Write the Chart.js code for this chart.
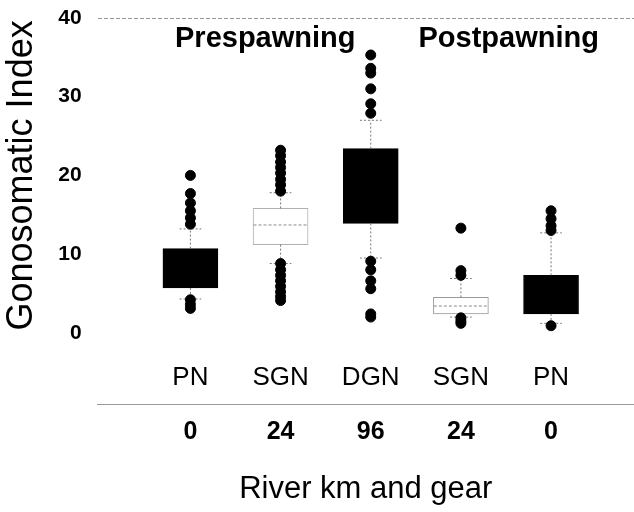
<!DOCTYPE html>
<html>
<head>
<meta charset="utf-8">
<script src="https://cdn.jsdelivr.net/npm/chart.js@4/dist/chart.umd.min.js"></script>
<style>
  body { margin: 0; background: #fff; }
  #wrap { width: 634px; height: 512px; }
</style>
</head>
<body>
<div id="wrap"><canvas id="gsi" width="634" height="512"></canvas></div>
<script>
// gear and river km under each box
const gear = ["PN", "SGN", "DGN", "SGN", "PN"];
const riverKm = ["0", "24", "96", "24", "0"];
const phases = ["Prespawning", "Postpawning"];

// box edges (quartiles), medians, whisker ends
const q1 = [5.7, 11.2, 13.9, 2.4, 2.4];
const q3 = [10.7, 15.8, 23.4, 4.5, 7.3];
const median = [null, 13.7, null, 3.4, null];
const whiskerLow = [4.3, 8.8, 9.5, 2.0, 1.2];
const whiskerHigh = [13.2, 17.8, 27.0, 6.9, 12.7];
const boxFill = ["#000", "#fff", "#000", "#fff", "#000"];
const boxEdge = ["#000", "#b0b0b0", "#000", "#9a9a9a", "#000"];

// outliers per box
const outliers = [
  [20.0, 17.7, 16.5, 15.5, 14.6, 13.8, 4.2, 3.6, 3.1],
  [23.2, 22.5, 21.7, 21.0, 20.3, 19.5, 18.8, 18.0, 8.8, 8.0, 7.3, 6.6, 5.9, 5.2, 4.6, 4.1],
  [35.3, 33.6, 33.0, 31.0, 29.1, 27.9, 9.1, 8.0, 6.6, 5.6, 2.4, 2.0],
  [13.3, 7.9, 7.3, 1.9, 1.5, 1.2],
  [15.5, 14.5, 13.6, 13.0, 0.9]
];

const FONT = "'Liberation Sans', Arial, Helvetica, sans-serif";
const X_MIN = -0.03, X_MAX = 5.92;

// whisker segments with short caps, broken by gaps
let whiskers = [];
gear.forEach((g, i) => {
  let x = i + 1;
  whiskers.push({x: x, y: q3[i]}, {x: x, y: whiskerHigh[i]}, {x: x, y: null});
  whiskers.push({x: x - 0.12, y: whiskerHigh[i]}, {x: x + 0.12, y: whiskerHigh[i]}, {x: x, y: null});
  whiskers.push({x: x, y: q1[i]}, {x: x, y: whiskerLow[i]}, {x: x, y: null});
  whiskers.push({x: x - 0.12, y: whiskerLow[i]}, {x: x + 0.12, y: whiskerLow[i]}, {x: x, y: null});
});

let medians = [];
median.forEach((m, i) => {
  if (m === null) return;
  medians.push({x: i + 1 - 0.3, y: m}, {x: i + 1 + 0.3, y: m}, {x: i + 1, y: null});
});

let points = [];
outliers.forEach((list, i) => list.forEach(v => points.push({x: i + 1, y: v})));

const phaseLabels = {
  id: "phaseLabels",
  afterDraw(chart) {
    const ctx = chart.ctx;
    const xs = chart.scales.x, ys = chart.scales.y;
    const at = [1.83, 4.53];
    ctx.save();
    ctx.font = "bold 29px " + FONT;
    ctx.fillStyle = "#000";
    ctx.textAlign = "center";
    ctx.textBaseline = "middle";
    phases.forEach((p, i) => ctx.fillText(p, xs.getPixelForValue(at[i]), ys.getPixelForValue(37.3)));
    ctx.restore();
  }
};

new Chart("gsi", {
  type: "bar",
  data: {
    datasets: [
      {
        type: "scatter",
        data: points,
        backgroundColor: "#000",
        borderColor: "#000",
        pointRadius: 5,
        clip: false
      },
      {
        type: "line",
        data: medians,
        borderColor: "#8a8a8a",
        borderWidth: 1,
        borderDash: [3, 2],
        pointRadius: 0,
        spanGaps: false,
        fill: false
      },
      {
        type: "line",
        data: whiskers,
        borderColor: "#777",
        borderWidth: 1,
        borderDash: [2, 2],
        pointRadius: 0,
        spanGaps: false,
        fill: false
      },
      {
        type: "bar",
        data: gear.map((g, i) => ({x: i + 1, y: [q1[i], q3[i]]})),
        backgroundColor: boxFill,
        borderColor: boxEdge,
        borderWidth: 1,
        borderSkipped: false,
        barThickness: 55
      }
    ]
  },
  options: {
    responsive: false,
    animation: false,
    layout: {autoPadding: false, padding: {top: 18, left: 0, right: 0, bottom: 0}},
    plugins: {legend: {display: false}, tooltip: {enabled: false}},
    scales: {
      x: {
        type: "linear",
        position: "bottom",
        offset: false,
        min: X_MIN,
        max: X_MAX,
        afterBuildTicks: s => { s.ticks = gear.map((g, i) => ({value: i + 1})); },
        afterFit: s => { s.height = 72; },
        grid: {display: false, drawTicks: false},
        border: {display: false},
        ticks: {
          autoSkip: false,
          maxRotation: 0,
          padding: 29,
          color: "#000",
          font: {family: FONT, size: 26},
          callback: v => gear[v - 1]
        }
      },
      x2: {
        type: "linear",
        position: "bottom",
        offset: false,
        min: X_MIN,
        max: X_MAX,
        afterBuildTicks: s => { s.ticks = riverKm.map((k, i) => ({value: i + 1})); },
        grid: {display: false, drawTicks: false},
        border: {display: true, color: "#999", width: 1, dash: [4, 2]},
        ticks: {
          autoSkip: false,
          maxRotation: 0,
          padding: 12,
          color: "#000",
          font: {family: FONT, size: 25, weight: "bold"},
          callback: v => riverKm[v - 1]
        },
        title: {
          display: true,
          text: "River km and gear",
          color: "#000",
          font: {family: FONT, size: 31},
          padding: {top: 12, bottom: 4}
        }
      },
      y: {
        min: 0,
        max: 40,
        ticks: {
          stepSize: 10,
          padding: 0,
          color: "#000",
          font: {family: FONT, size: 21, weight: "bold"}
        },
        grid: {
          drawTicks: true,
          tickLength: 16,
          tickColor: "rgba(0,0,0,0)",
          color: c => c.tick && c.tick.value === 40 ? "#999" : "rgba(0,0,0,0)"
        },
        border: {display: false, dash: [4, 2]},
        title: {
          display: true,
          text: "Gonosomatic Index",
          color: "#000",
          font: {family: FONT, size: 36},
          padding: {top: 0, bottom: 15}
        }
      }
    }
  },
  plugins: [phaseLabels]
});
</script>
</body>
</html>
